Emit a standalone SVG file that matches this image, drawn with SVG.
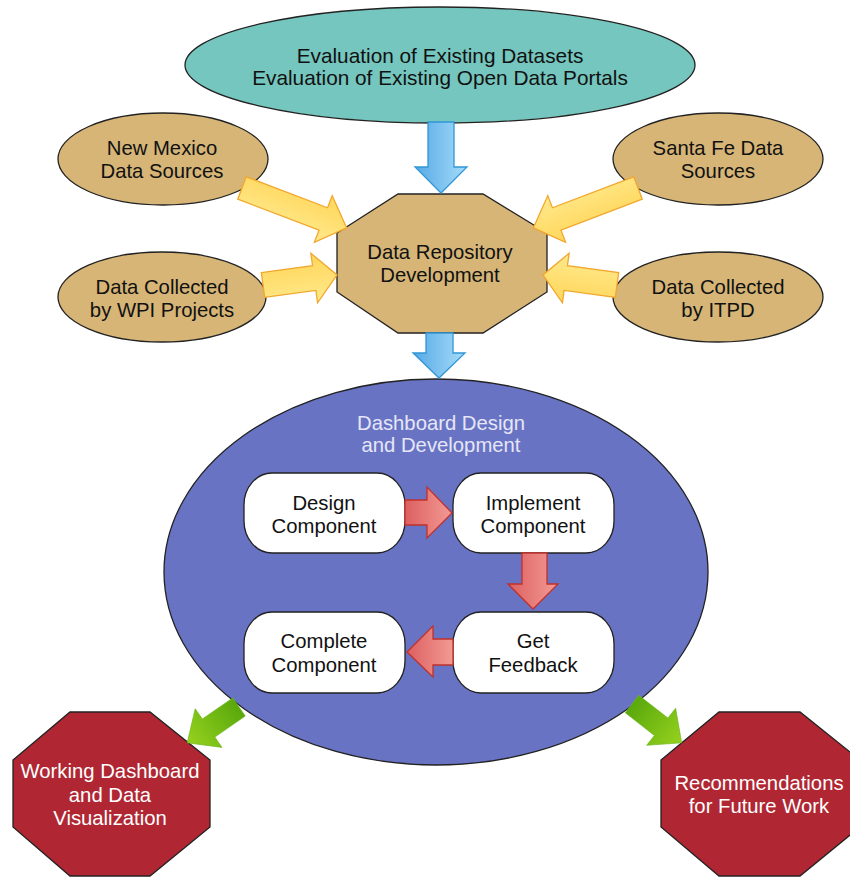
<svg xmlns="http://www.w3.org/2000/svg" width="850" height="878" viewBox="0 0 850 878">
<defs>
<linearGradient id="gBlue" x1="0" y1="0" x2="1" y2="0"><stop offset="0" stop-color="#55a9e6"/><stop offset="1" stop-color="#a6dcf9"/></linearGradient>
<linearGradient id="gYel" x1="0" y1="0" x2="0" y2="1"><stop offset="0" stop-color="#ffd65a"/><stop offset="1" stop-color="#ffe98c"/></linearGradient>
<linearGradient id="gRedH" x1="0" y1="0" x2="1" y2="0"><stop offset="0" stop-color="#dc6060"/><stop offset="1" stop-color="#f39a94"/></linearGradient>
<linearGradient id="gGreen" x1="0" y1="0" x2="1" y2="0"><stop offset="0" stop-color="#5aa80c"/><stop offset="1" stop-color="#96d21e"/></linearGradient>
<style>
.t{font-family:"Liberation Sans",Arial,sans-serif;font-size:20.3px;text-anchor:middle;fill:#111}
.big{font-size:20.8px}
.w{fill:#fff}
.lav{fill:#e6e6f7}
.ol{stroke:#222;stroke-width:1.3}
.tan{fill:#d6b577}
.ya{fill:url(#gYel);stroke:#f2a72c;stroke-width:1.3}
.ba{fill:url(#gBlue);stroke:#3196d6;stroke-width:1.3}
.ra{fill:url(#gRedH);stroke:#c0302b;stroke-width:1.3}
.ga{fill:url(#gGreen);stroke:#6ab41a;stroke-width:0.6}
.box{fill:#fff;stroke:#222;stroke-width:1.3}
.oct{fill:#b02733;stroke:#222;stroke-width:1.3}
</style>
</defs>

<g id="eval">
<ellipse cx="440" cy="65" rx="255" ry="58" fill="#74c6be" class="ol"/>
<text class="t big" x="440" y="63">Evaluation of Existing Datasets</text>
<text class="t big" x="440" y="85">Evaluation of Existing Open Data Portals</text>
</g>

<g id="nm">
<ellipse cx="163" cy="159" rx="105" ry="46" class="tan ol"/>
<text class="t" x="162" y="155">New Mexico</text>
<text class="t" x="162" y="178">Data Sources</text>
</g>
<g id="wpi">
<ellipse cx="162" cy="297" rx="104" ry="45" class="tan ol"/>
<text class="t" x="162" y="294">Data Collected</text>
<text class="t" x="162" y="317">by WPI Projects</text>
</g>
<g id="sf">
<ellipse cx="718" cy="159" rx="105" ry="46" class="tan ol"/>
<text class="t" x="718" y="155">Santa Fe Data</text>
<text class="t" x="718" y="178">Sources</text>
</g>
<g id="itpd">
<ellipse cx="718" cy="297" rx="105" ry="45" class="tan ol"/>
<text class="t" x="718" y="294">Data Collected</text>
<text class="t" x="718" y="317">by ITPD</text>
</g>

<g id="repo">
<polygon points="398,194 483,194 547,233 547,292 483,333 398,333 337,292 337,233" class="tan ol"/>
<text class="t" x="440" y="259">Data Repository</text>
<text class="t" x="440" y="282">Development</text>
</g>

<g id="dashboard">
<ellipse cx="436" cy="572" rx="272" ry="193" fill="#6874c3" class="ol"/>
<text class="t lav" x="441" y="430">Dashboard Design</text>
<text class="t lav" x="441" y="452">and Development</text>
</g>

<g id="design">
<rect x="244" y="473" width="161" height="80" rx="28" ry="32" class="box"/>
<text class="t" x="324" y="510">Design</text>
<text class="t" x="324" y="533">Component</text>
</g>
<g id="implement">
<rect x="453" y="473" width="161" height="80" rx="28" ry="32" class="box"/>
<text class="t" x="533" y="510">Implement</text>
<text class="t" x="533" y="533">Component</text>
</g>
<g id="complete">
<rect x="244" y="612" width="161" height="81" rx="28" ry="32" class="box"/>
<text class="t" x="324" y="648">Complete</text>
<text class="t" x="324" y="672">Component</text>
</g>
<g id="feedback">
<rect x="453" y="612" width="161" height="81" rx="28" ry="32" class="box"/>
<text class="t" x="533" y="648">Get</text>
<text class="t" x="533" y="672">Feedback</text>
</g>

<g id="working">
<polygon points="70,712 150,712 210,760 210,827 150,876 70,876 13,827 13,760" class="oct"/>
<text class="t w" x="110" y="778">Working Dashboard</text>
<text class="t w" x="110" y="802">and Data</text>
<text class="t w" x="110" y="825">Visualization</text>
</g>
<g id="recommend">
<polygon points="719,712 800,712 860,760 860,827 800,876 719,876 661,827 661,760" class="oct"/>
<text class="t w" x="759" y="790">Recommendations</text>
<text class="t w" x="759" y="813">for Future Work</text>
</g>

<g id="connectors">
<polygon class="ba" points="428,122 454,122 454,167 467,167 441,193 415,167 428,167"/>
<polygon class="ba" points="426,333 453,333 453,353 465,353 439,378 413,353 426,353"/>
<path class="ya" transform="translate(242,188) rotate(20.85)" d="M0,-12 L87,-12 L87,-25 L112,0 L87,25 L87,12 L0,12 Z"/>
<path class="ya" transform="translate(638,188) rotate(159.15)" d="M0,-12 L87,-12 L87,-25 L112,0 L87,25 L87,12 L0,12 Z"/>
<path class="ya" transform="translate(263,285) rotate(-7.7)" d="M0,-12.5 L51.7,-12.5 L51.7,-25 L74.7,0 L51.7,25 L51.7,12.5 L0,12.5 Z"/>
<path class="ya" transform="translate(617,285) rotate(187.7)" d="M0,-12.5 L51.7,-12.5 L51.7,-25 L74.7,0 L51.7,25 L51.7,12.5 L0,12.5 Z"/>
<polygon class="ra" points="405,500 427,500 427,487 452,513 427,538 427,525 405,525"/>
<polygon class="ra" points="522,553 547,553 547,584 558,584 533,609 508,584 522,584"/>
<polygon class="ra" points="453,639 433,639 433,626 407,652 433,677 433,665 453,665"/>
<path class="ga" transform="translate(239,707) rotate(145.3)" d="M0,-11 L37,-11 L37,-23.5 L63,0 L37,23.5 L37,11 L0,11 Z"/>
<path class="ga" transform="translate(632,704) rotate(38)" d="M0,-11 L37,-11 L37,-23.5 L63,0 L37,23.5 L37,11 L0,11 Z"/>
</g>
</svg>
